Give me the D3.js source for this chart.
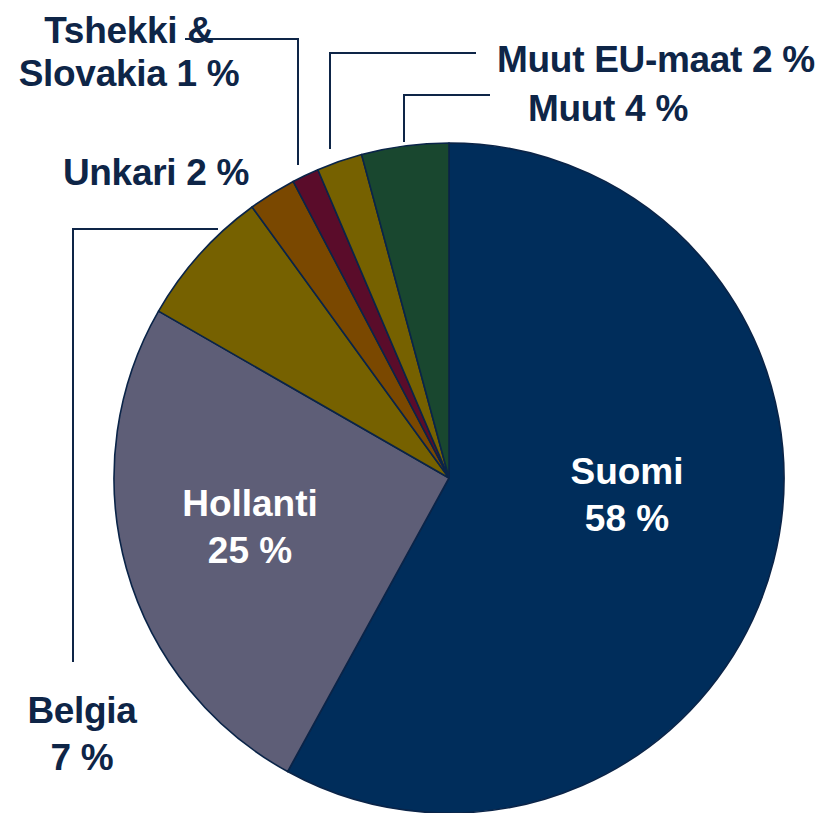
<!DOCTYPE html>
<html>
<head>
<meta charset="utf-8">
<script src="https://cdn.jsdelivr.net/npm/d3@7"></script>
<style>
  html, body { margin: 0; padding: 0; background: #ffffff; }
  svg { display: block; }
  text { font-family: "Liberation Sans", Arial, sans-serif; font-weight: bold; }
</style>
</head>
<body>
<svg id="chart" width="824" height="813"></svg>
<script>
// ---- Data ----
const categories = ["Suomi", "Hollanti", "Belgia", "Unkari", "Tshekki & Slovakia", "Muut EU-maat", "Muut"];
const values = [58.0, 25.3, 6.7, 2.3, 1.3, 2.2, 4.2];
const valueLabels = ["58 %", "25 %", "7 %", "2 %", "1 %", "2 %", "4 %"];
const colors = ["#002d5b", "#5e5e77", "#766100", "#7a4800", "#5a0c2a", "#766100", "#19472f"];

// ---- Layout ----
const W = 824, H = 813;
const cx = 449, cy = 478, R = 335;
const textColor = "#0e2547";
const fontSize = 37;

const svg = d3.select("#chart");
const g = svg.append("g").attr("transform", `translate(${cx},${cy})`);

const pie = d3.pie().sort(null).value(d => d.value);
const data = categories.map((c, i) => ({ name: c, value: values[i], label: valueLabels[i], color: colors[i] }));
const arcs = pie(data);
const arc = d3.arc().innerRadius(0).outerRadius(R);

g.selectAll("path.slice")
  .data(arcs)
  .enter().append("path")
  .attr("class", "slice")
  .attr("d", arc)
  .attr("fill", d => d.data.color)
  .attr("stroke", "#0a2448")
  .attr("stroke-width", 1.6)
  .attr("stroke-linejoin", "round");

// Inside labels (white)
const inside = {
  "Suomi": { x: 627, y: 484 },
  "Hollanti": { x: 250, y: 516 }
};
arcs.filter(d => inside[d.data.name]).forEach(d => {
  const p = inside[d.data.name];
  const t = svg.append("text")
    .attr("x", p.x).attr("y", p.y)
    .attr("text-anchor", "middle")
    .attr("fill", "#ffffff")
    .attr("font-size", fontSize);
  t.append("tspan").attr("x", p.x).attr("dy", 0).text(d.data.name);
  t.append("tspan").attr("x", p.x).attr("dy", 47).text(d.data.label);
});

// Outside labels with leader lines
const outside = {
  "Belgia": { lines: [["Belgia", 82, 723], ["7 %", 82, 770]], anchor: "middle",
              leader: [[218, 229], [73, 229], [73, 662]] },
  "Unkari": { lines: [["Unkari 2 %", 156, 185]], anchor: "middle", leader: null },
  "Tshekki & Slovakia": { lines: [["Tshekki &", 129, 43], ["Slovakia 1 %", 129, 86]], anchor: "middle",
              leader: [[185, 39], [298, 39], [298, 165]] },
  "Muut EU-maat": { lines: [["Muut EU-maat 2 %", 656, 72]], anchor: "middle",
              leader: [[330, 149], [330, 53], [476, 53]] },
  "Muut": { lines: [["Muut 4 %", 608, 121]], anchor: "middle",
              leader: [[404, 142], [404, 95], [490, 95]] }
};

const lineGen = d3.line();
arcs.filter(d => outside[d.data.name]).forEach(d => {
  const o = outside[d.data.name];
  if (o.leader) {
    svg.append("path")
      .attr("d", lineGen(o.leader))
      .attr("fill", "none")
      .attr("stroke", textColor)
      .attr("stroke-width", 2);
  }
  o.lines.forEach(([txt, x, y]) => {
    svg.append("text")
      .attr("x", x).attr("y", y)
      .attr("text-anchor", o.anchor)
      .attr("fill", textColor)
      .attr("font-size", fontSize)
      .attr("letter-spacing", -0.3)
      .text(txt);
  });
});
</script>
</body>
</html>
